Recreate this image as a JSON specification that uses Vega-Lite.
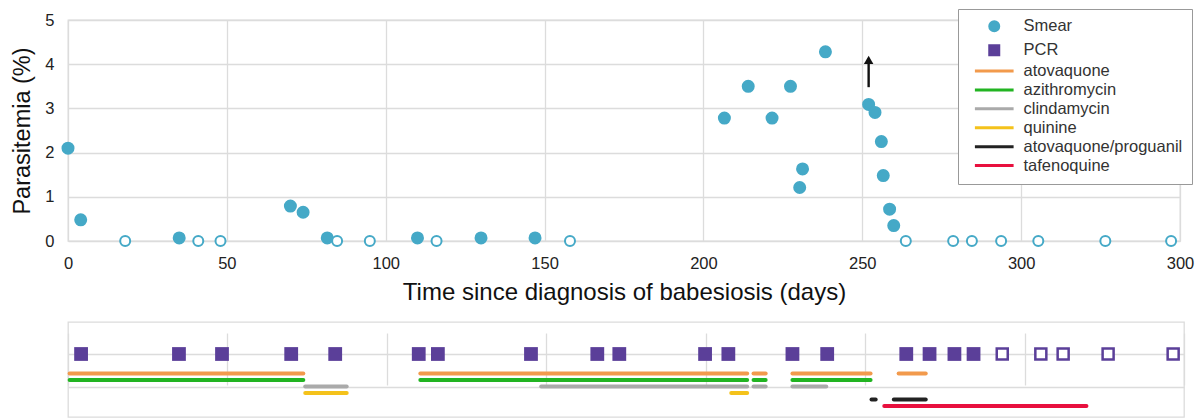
{
  "$schema": "https://vega.github.io/schema/vega-lite/v6.json",
  "background": "white",
  "padding": {"left": 10, "top": 7, "right": 0, "bottom": 0},
  "spacing": 15,
  "config": {
    "font": "Liberation Sans",
    "view": {"stroke": "#dcdcdc", "strokeWidth": 1.3},
    "axis": {
      "gridColor": "#dcdcdc",
      "gridWidth": 1.3,
      "domain": false,
      "ticks": false,
      "tickSize": 0,
      "labelFont": "Liberation Sans",
      "labelFontSize": 16.5,
      "labelColor": "#222222",
      "titleFont": "Liberation Sans",
      "titleFontWeight": "normal",
      "titleColor": "#111111"
    },
    "legend": {
      "title": null,
      "orient": "none",
      "legendX": 890,
      "legendY": -11,
      "strokeColor": "#999999",
      "fillColor": "white",
      "padding": 9,
      "rowPadding": 1.9,
      "symbolSize": 81,
      "symbolStrokeWidth": 3,
      "symbolOffset": 19,
      "labelOffset": 21,
      "labelFont": "Liberation Sans",
      "labelFontSize": 16.5,
      "labelColor": "#333333",
      "symbolOpacity": 1
    }
  },
  "resolve": {"scale": {"color": "independent", "fill": "independent", "stroke": "independent", "shape": "independent"}},
  "datasets": {
    "smear": [
      {"day": 0, "parasitemia": 2.1, "result": "positive", "series": "Smear"},
      {"day": 4, "parasitemia": 0.48, "result": "positive", "series": "Smear"},
      {"day": 18, "parasitemia": 0, "result": "negative", "series": "Smear"},
      {"day": 35, "parasitemia": 0.07, "result": "positive", "series": "Smear"},
      {"day": 41, "parasitemia": 0, "result": "negative", "series": "Smear"},
      {"day": 48, "parasitemia": 0, "result": "negative", "series": "Smear"},
      {"day": 70, "parasitemia": 0.79, "result": "positive", "series": "Smear"},
      {"day": 74, "parasitemia": 0.65, "result": "positive", "series": "Smear"},
      {"day": 81.6, "parasitemia": 0.07, "result": "positive", "series": "Smear"},
      {"day": 84.7, "parasitemia": 0, "result": "negative", "series": "Smear"},
      {"day": 95, "parasitemia": 0, "result": "negative", "series": "Smear"},
      {"day": 110, "parasitemia": 0.07, "result": "positive", "series": "Smear"},
      {"day": 116, "parasitemia": 0, "result": "negative", "series": "Smear"},
      {"day": 130, "parasitemia": 0.07, "result": "positive", "series": "Smear"},
      {"day": 147, "parasitemia": 0.07, "result": "positive", "series": "Smear"},
      {"day": 158, "parasitemia": 0, "result": "negative", "series": "Smear"},
      {"day": 206.6, "parasitemia": 2.78, "result": "positive", "series": "Smear"},
      {"day": 214.1, "parasitemia": 3.5, "result": "positive", "series": "Smear"},
      {"day": 221.6, "parasitemia": 2.78, "result": "positive", "series": "Smear"},
      {"day": 227.4, "parasitemia": 3.5, "result": "positive", "series": "Smear"},
      {"day": 230.3, "parasitemia": 1.21, "result": "positive", "series": "Smear"},
      {"day": 231.2, "parasitemia": 1.63, "result": "positive", "series": "Smear"},
      {"day": 238.4, "parasitemia": 4.28, "result": "positive", "series": "Smear"},
      {"day": 252, "parasitemia": 3.09, "result": "positive", "series": "Smear"},
      {"day": 254, "parasitemia": 2.91, "result": "positive", "series": "Smear"},
      {"day": 256, "parasitemia": 2.25, "result": "positive", "series": "Smear"},
      {"day": 256.6, "parasitemia": 1.48, "result": "positive", "series": "Smear"},
      {"day": 258.6, "parasitemia": 0.72, "result": "positive", "series": "Smear"},
      {"day": 259.9, "parasitemia": 0.35, "result": "positive", "series": "Smear"},
      {"day": 263.7, "parasitemia": 0, "result": "negative", "series": "Smear"},
      {"day": 278.6, "parasitemia": 0, "result": "negative", "series": "Smear"},
      {"day": 284.5, "parasitemia": 0, "result": "negative", "series": "Smear"},
      {"day": 293.7, "parasitemia": 0, "result": "negative", "series": "Smear"},
      {"day": 305.4, "parasitemia": 0, "result": "negative", "series": "Smear"},
      {"day": 326.5, "parasitemia": 0, "result": "negative", "series": "Smear"},
      {"day": 347.2, "parasitemia": 0, "result": "negative", "series": "Smear"}
    ],
    "arrow": [
      {"day": 252, "from": 3.48, "to": 4.1}
    ],
    "pcr": [
      {"day": 4.1, "result": "positive"},
      {"day": 34.8, "result": "positive"},
      {"day": 48.3, "result": "positive"},
      {"day": 70, "result": "positive"},
      {"day": 83.8, "result": "positive"},
      {"day": 110, "result": "positive"},
      {"day": 116, "result": "positive"},
      {"day": 145.2, "result": "positive"},
      {"day": 166, "result": "positive"},
      {"day": 172.9, "result": "positive"},
      {"day": 199.8, "result": "positive"},
      {"day": 207.1, "result": "positive"},
      {"day": 227.2, "result": "positive"},
      {"day": 238.1, "result": "positive"},
      {"day": 262.9, "result": "positive"},
      {"day": 270.2, "result": "positive"},
      {"day": 278, "result": "positive"},
      {"day": 284, "result": "positive"},
      {"day": 293, "result": "negative"},
      {"day": 305.1, "result": "negative"},
      {"day": 312.1, "result": "negative"},
      {"day": 326.2, "result": "negative"},
      {"day": 346.6, "result": "negative"}
    ],
    "drugs": [
      {"drug": "atovaquone", "start": 0.5, "end": 73.8},
      {"drug": "atovaquone", "start": 110.5, "end": 213},
      {"drug": "atovaquone", "start": 215, "end": 218.8},
      {"drug": "atovaquone", "start": 227.2, "end": 251.7},
      {"drug": "atovaquone", "start": 260.5, "end": 269},
      {"drug": "azithromycin", "start": 0.5, "end": 73.8},
      {"drug": "azithromycin", "start": 110.5, "end": 213},
      {"drug": "azithromycin", "start": 215, "end": 218.8},
      {"drug": "azithromycin", "start": 227.2, "end": 251.7},
      {"drug": "clindamycin", "start": 74.4, "end": 87.4},
      {"drug": "clindamycin", "start": 148.4, "end": 213},
      {"drug": "clindamycin", "start": 215, "end": 218.8},
      {"drug": "clindamycin", "start": 227.2, "end": 237.8},
      {"drug": "quinine", "start": 74.4, "end": 87.4},
      {"drug": "quinine", "start": 208, "end": 213},
      {"drug": "atovaquone/proguanil", "start": 252, "end": 253.3},
      {"drug": "atovaquone/proguanil", "start": 259, "end": 269},
      {"drug": "tafenoquine", "start": 256, "end": 319.4}
    ]
  },
  "vconcat": [
    {
      "width": 1112,
      "height": 221,
      "layer": [
        {
          "data": {"name": "smear"},
          "transform": [{"filter": "datum.result === 'positive'"}],
          "mark": {"type": "point", "filled": true, "size": 100, "strokeWidth": 3, "opacity": 1},
          "encoding": {
            "x": {
              "field": "day", "type": "quantitative",
              "scale": {"domain": [0, 350], "nice": false, "zero": false},
              "axis": {
                "values": [0, 50, 100, 150, 200, 250, 300, 350],
                "labelExpr": "datum.value == 350 ? '300' : datum.label",
                "grid": true, "labelPadding": 14, "labelFlush": false,
                "title": "Time since diagnosis of babesiosis (days)",
                "titleFontSize": 24, "titlePadding": 9
              }
            },
            "y": {
              "field": "parasitemia", "type": "quantitative",
              "scale": {"domain": [0, 5], "nice": false},
              "axis": {
                "values": [0, 1, 2, 3, 4, 5], "grid": true, "labelPadding": 14,
                "title": "Parasitemia (%)", "titleFontSize": 23.5, "titlePadding": 10
              }
            },
            "fill": {
              "field": "series", "type": "nominal",
              "scale": {
                "domain": ["Smear", "PCR", "atovaquone", "azithromycin", "clindamycin", "quinine", "atovaquone/proguanil", "tafenoquine"],
                "range": ["#45a9c7", "#5b3f99", "#f29a4c", "#22b422", "#aaaaaa", "#f4c21b", "#222222", "#e8103e"]
              },
              "legend": {"title": null}
            },
            "stroke": {
              "field": "series", "type": "nominal",
              "scale": {
                "domain": ["Smear", "PCR", "atovaquone", "azithromycin", "clindamycin", "quinine", "atovaquone/proguanil", "tafenoquine"],
                "range": ["#45a9c7", "#5b3f99", "#f29a4c", "#22b422", "#aaaaaa", "#f4c21b", "#222222", "#e8103e"]
              },
              "legend": {"title": null}
            },
            "shape": {
              "field": "series", "type": "nominal",
              "scale": {
                "domain": ["Smear", "PCR", "atovaquone", "azithromycin", "clindamycin", "quinine", "atovaquone/proguanil", "tafenoquine"],
                "range": ["circle", "square", "M-4.3,0H4.3", "M-4.3,0H4.3", "M-4.3,0H4.3", "M-4.3,0H4.3", "M-4.3,0H4.3", "M-4.3,0H4.3"]
              },
              "legend": {"title": null}
            }
          }
        },
        {
          "data": {"name": "smear"},
          "transform": [{"filter": "datum.result === 'negative'"}],
          "mark": {"type": "point", "filled": false, "fill": "white", "stroke": "#45a9c7", "strokeWidth": 2, "size": 100, "opacity": 1},
          "encoding": {
            "x": {"field": "day", "type": "quantitative"},
            "y": {"field": "parasitemia", "type": "quantitative"}
          }
        },
        {
          "data": {"name": "arrow"},
          "mark": {"type": "rule", "color": "#111111", "strokeWidth": 2.4},
          "encoding": {
            "x": {"field": "day", "type": "quantitative"},
            "y": {"field": "from", "type": "quantitative"},
            "y2": {"field": "to"}
          }
        },
        {
          "data": {"name": "arrow"},
          "mark": {"type": "point", "shape": "triangle-up", "filled": true, "color": "#111111", "size": 90, "opacity": 1},
          "encoding": {
            "x": {"field": "day", "type": "quantitative"},
            "y": {"field": "to", "type": "quantitative"}
          }
        }
      ]
    },
    {
      "width": 1116,
      "height": 95,
      "layer": [
        {
          "data": {"name": "drugs"},
          "mark": {"type": "rule", "strokeWidth": 4, "strokeCap": "round"},
          "encoding": {
            "x": {
              "field": "start", "type": "quantitative",
              "scale": {"domain": [0, 350], "nice": false, "zero": false},
              "axis": {"values": [0, 50, 100, 150, 200, 250, 300, 350], "grid": true, "labels": false, "title": null}
            },
            "x2": {"field": "end"},
            "y": {
              "field": "drug", "type": "nominal",
              "scale": {
                "type": "point",
                "domain": ["PCR", "gap1", "gap2", "atovaquone", "azithromycin", "clindamycin", "quinine", "atovaquone/proguanil", "tafenoquine"],
                "range": [32, 84],
                "padding": 0
              },
              "axis": {"values": ["PCR", "clindamycin"], "grid": true, "labels": false, "title": null}
            },
            "color": {
              "field": "drug", "type": "nominal",
              "scale": {
                "domain": ["atovaquone", "azithromycin", "clindamycin", "quinine", "atovaquone/proguanil", "tafenoquine"],
                "range": ["#f29a4c", "#22b422", "#aaaaaa", "#f4c21b", "#222222", "#e8103e"]
              },
              "legend": null
            }
          }
        },
        {
          "data": {"name": "pcr"},
          "transform": [{"filter": "datum.result === 'positive'"}],
          "mark": {"type": "point", "shape": "square", "filled": true, "color": "#5b3f99", "size": 190, "opacity": 1},
          "encoding": {
            "x": {"field": "day", "type": "quantitative"},
            "y": {"datum": "PCR", "type": "nominal"}
          }
        },
        {
          "data": {"name": "pcr"},
          "transform": [{"filter": "datum.result === 'negative'"}],
          "mark": {"type": "point", "shape": "square", "filled": false, "fill": "white", "stroke": "#5b3f99", "strokeWidth": 2.5, "size": 121, "opacity": 1},
          "encoding": {
            "x": {"field": "day", "type": "quantitative"},
            "y": {"datum": "PCR", "type": "nominal"}
          }
        }
      ]
    }
  ]
}
